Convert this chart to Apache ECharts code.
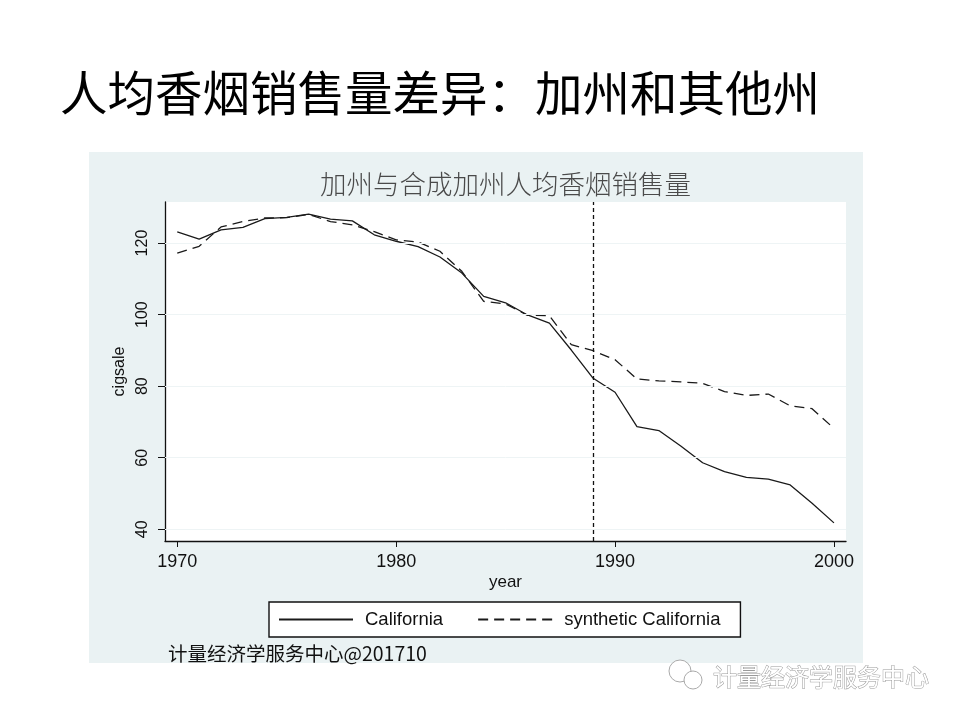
<!DOCTYPE html>
<html>
<head>
<meta charset="utf-8">
<script src="https://cdn.jsdelivr.net/npm/echarts@6/dist/echarts.min.js"></script>
<style>
  html, body { margin: 0; padding: 0; background: #fff; }
  #main { width: 960px; height: 720px; }
</style>
</head>
<body>
<div id="main"></div>
<script>
// 年份
var years = [1970, 1971, 1972, 1973, 1974, 1975, 1976, 1977, 1978, 1979,
             1980, 1981, 1982, 1983, 1984, 1985, 1986, 1987, 1988, 1989,
             1990, 1991, 1992, 1993, 1994, 1995, 1996, 1997, 1998, 1999, 2000];
// 加州人均香烟销售量
var california = [123.1, 121.1, 123.7, 124.4, 126.8, 127.2, 128.1, 126.7, 126.2, 122.3,
                  120.5, 119.0, 116.1, 111.6, 105.1, 103.3, 99.9, 97.6, 90.1, 82.2,
                  78.3, 68.7, 67.6, 63.3, 58.6, 56.1, 54.5, 54.0, 52.4, 47.3, 41.8];
// 合成加州
var synthetic = [117.2, 119.1, 124.5, 126.0, 127.0, 127.1, 128.0, 126.0, 125.1, 123.2,
                 120.9, 120.3, 117.7, 112.1, 103.7, 103.0, 99.8, 99.7, 91.6, 89.9,
                 87.4, 82.0, 81.5, 81.2, 80.8, 78.5, 77.4, 77.8, 74.5, 73.7, 68.2];
var xTicks = [1970, 1980, 1990, 2000];
var yTicks = [40, 60, 80, 100, 120];
var treatYear = 1989;

var chart = echarts.init(document.getElementById('main'));

function pairs(vals) {
  var out = [];
  for (var i = 0; i < years.length; i++) out.push([years[i], vals[i]]);
  return out;
}

var latin = '"Liberation Sans", Arial, sans-serif';
var cjk = '"Noto Sans CJK SC", sans-serif';

var option = {
  backgroundColor: '#fff',
  animation: false,
  title: {
    text: '人均香烟销售量差异：加州和其他州',
    left: 60,
    top: 69,
    padding: 0,
    textStyle: { fontFamily: cjk, fontSize: 47.5, fontWeight: 'normal', color: '#000' }
  },
  graphic: [
    { type: 'rect', z: -10, shape: { x: 89, y: 152, width: 774, height: 511 },
      style: { fill: '#EAF2F3' } },
    { type: 'text', x: 505.5, y: 184,
      style: { text: '加州与合成加州人均香烟销售量', fontFamily: cjk, fontSize: 26.5,
               fontWeight: 300, fill: '#4a4a4a', align: 'center', verticalAlign: 'middle' } },
    { type: 'text', x: 168, y: 654,
      style: { text: '计量经济学服务中心@201710', fontFamily: cjk, fontSize: 19.5,
               fill: '#111', align: 'left', verticalAlign: 'middle' } },
    { type: 'circle', shape: { cx: 680, cy: 671, r: 11 },
      style: { fill: '#fff', stroke: '#aaa', lineWidth: 1 } },
    { type: 'circle', shape: { cx: 693, cy: 680, r: 9 },
      style: { fill: '#fff', stroke: '#aaa', lineWidth: 1 } },
    { type: 'text', x: 713, y: 677,
      style: { text: '计量经济学服务中心', fontFamily: cjk, fontSize: 24,
               fill: '#fff', stroke: '#9a9a9a', lineWidth: 1,
               align: 'left', verticalAlign: 'middle' } }
  ],
  grid: {
    left: 165, right: 114, top: 202, bottom: 179,
    show: true, backgroundColor: '#fff', borderWidth: 0
  },
  legend: {
    left: 269, top: 602,
    padding: [8, 20, 8, 9],
    itemGap: 34,
    itemWidth: 74, itemHeight: 14,
    borderColor: '#111', borderWidth: 1.4,
    backgroundColor: '#fff',
    itemStyle: { opacity: 0 },
    data: ['California', 'synthetic California'],
    textStyle: { fontFamily: latin, fontSize: 18.5, color: '#111', lineHeight: 18, padding: [0, 0, 0, 7] }
  },
  xAxis: {
    type: 'value',
    min: 1969.44, max: 2000.55,
    name: 'year', nameLocation: 'middle', nameGap: 33,
    nameTextStyle: { fontFamily: latin, fontSize: 17, color: '#111' },
    axisLine: { lineStyle: { color: '#111', width: 1.3 } },
    axisTick: { customValues: xTicks, length: 6, lineStyle: { color: '#111' } },
    axisLabel: {
      customValues: xTicks, fontFamily: latin, fontSize: 18, color: '#111', margin: 12,
      formatter: function (v) { return String(v); }
    },
    splitLine: { show: false }
  },
  yAxis: {
    type: 'value',
    min: 36.73, max: 131.47,
    name: 'cigsale', nameLocation: 'middle', nameGap: 26, nameRotate: 90,
    nameTextStyle: { fontFamily: latin, fontSize: 16, color: '#111' },
    axisLine: { show: true, lineStyle: { color: '#111', width: 1.3 } },
    axisTick: { show: true, customValues: yTicks, length: 7, lineStyle: { color: '#111' } },
    axisLabel: { customValues: yTicks, rotate: 90, fontFamily: latin, fontSize: 16, color: '#111', margin: 14 },
    splitLine: { show: false }
  },
  series: [
    {
      name: 'grid', type: 'line', data: [], z: 1, silent: true,
      markLine: {
        silent: true, symbol: 'none', label: { show: false },
        lineStyle: { color: '#EEF4F5', type: 'solid', width: 1 },
        data: yTicks.map(function (v) { return { yAxis: v }; })
      }
    },
    {
      name: 'California', type: 'line', data: pairs(california),
      symbol: 'none', showSymbol: false, z: 3,
      lineStyle: { color: '#1a1a1a', width: 1.3, type: 'solid' },
      itemStyle: { color: '#1a1a1a' },
      markLine: {
        silent: true, symbol: 'none', label: { show: false },
        lineStyle: { color: '#111', type: [4, 3], width: 1.3 },
        data: [{ xAxis: treatYear }]
      }
    },
    {
      name: 'synthetic California', type: 'line', data: pairs(synthetic),
      symbol: 'none', showSymbol: false, z: 3,
      lineStyle: { color: '#1a1a1a', width: 1.3, type: [10, 6] },
      itemStyle: { color: '#1a1a1a' }
    }
  ]
};

chart.setOption(option);
</script>
</body>
</html>
